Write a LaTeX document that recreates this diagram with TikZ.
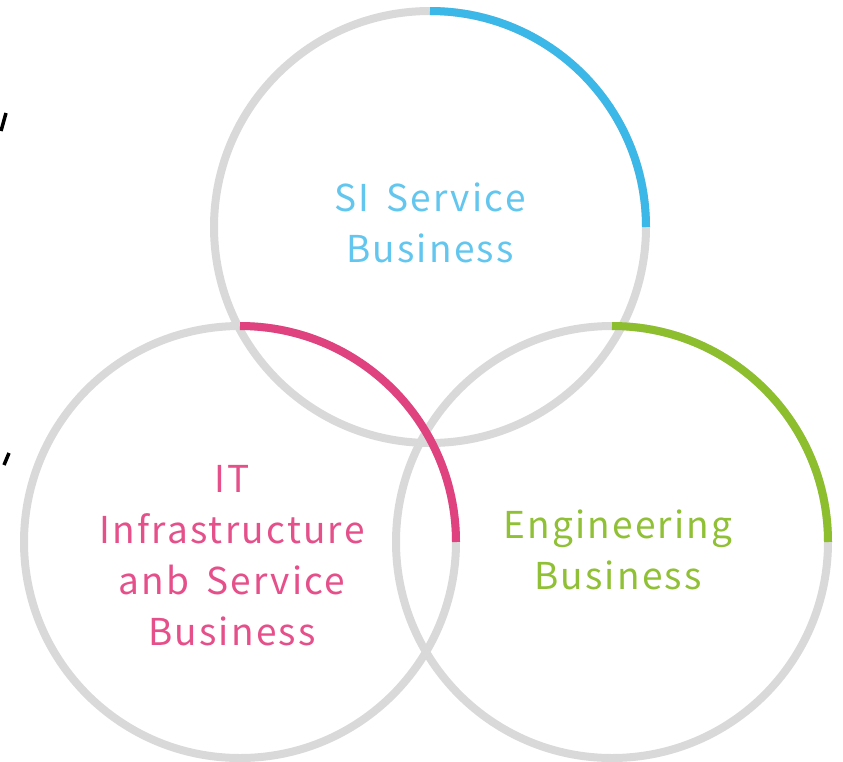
\documentclass[tikz,border=0pt]{standalone}
\usepackage{fontspec}
\setmainfont{Noto Sans CJK JP}[LetterSpace=6,WordSpace=1.6]
\definecolor{ringgray}{HTML}{D9D9D9}
\definecolor{siblue}{HTML}{3BB7E8}
\definecolor{sitext}{HTML}{62C6EE}
\definecolor{itpink}{HTML}{E0427F}
\definecolor{ittext}{HTML}{E5508B}
\definecolor{enggreen}{HTML}{8DBE2E}
\definecolor{engtext}{HTML}{90C035}
\begin{document}
\begin{tikzpicture}[x=1pt,y=-1pt,
  ring/.style={circle,draw=ringgray,line width=8pt,minimum size=432pt,inner sep=0pt,outer sep=0pt},
  accent/.style={line width=8pt},
  label/.style={align=center,font=\fontsize{37}{51}\selectfont}]
\useasboundingbox (0,0) rectangle (843,761);
\node[ring] (top) at (430,227) {};
\node[ring] (left) at (240,542) {};
\node[ring] (right) at (612,542) {};
\draw[accent,siblue] (top.north) arc[start angle=90,end angle=0,radius=216pt];
\draw[accent,itpink] (left.north) arc[start angle=90,end angle=0,radius=216pt];
\draw[accent,enggreen] (right.north) arc[start angle=90,end angle=0,radius=216pt];
\node[label,text=sitext] (sitxt) at (430,223) {SI Service\\Business};
\node[label,text=ittext] (ittxt) at (232,556) {IT\\Infrastructure\\anb Service\\Business};
\node[label,text=engtext] (engtxt) at (618,550) {Engineering\\Business};
\draw[line width=3.5pt] (1,131) -- (6,113);
\draw[line width=3.5pt] (4,465) -- (9,453);
\end{tikzpicture}
\end{document}
